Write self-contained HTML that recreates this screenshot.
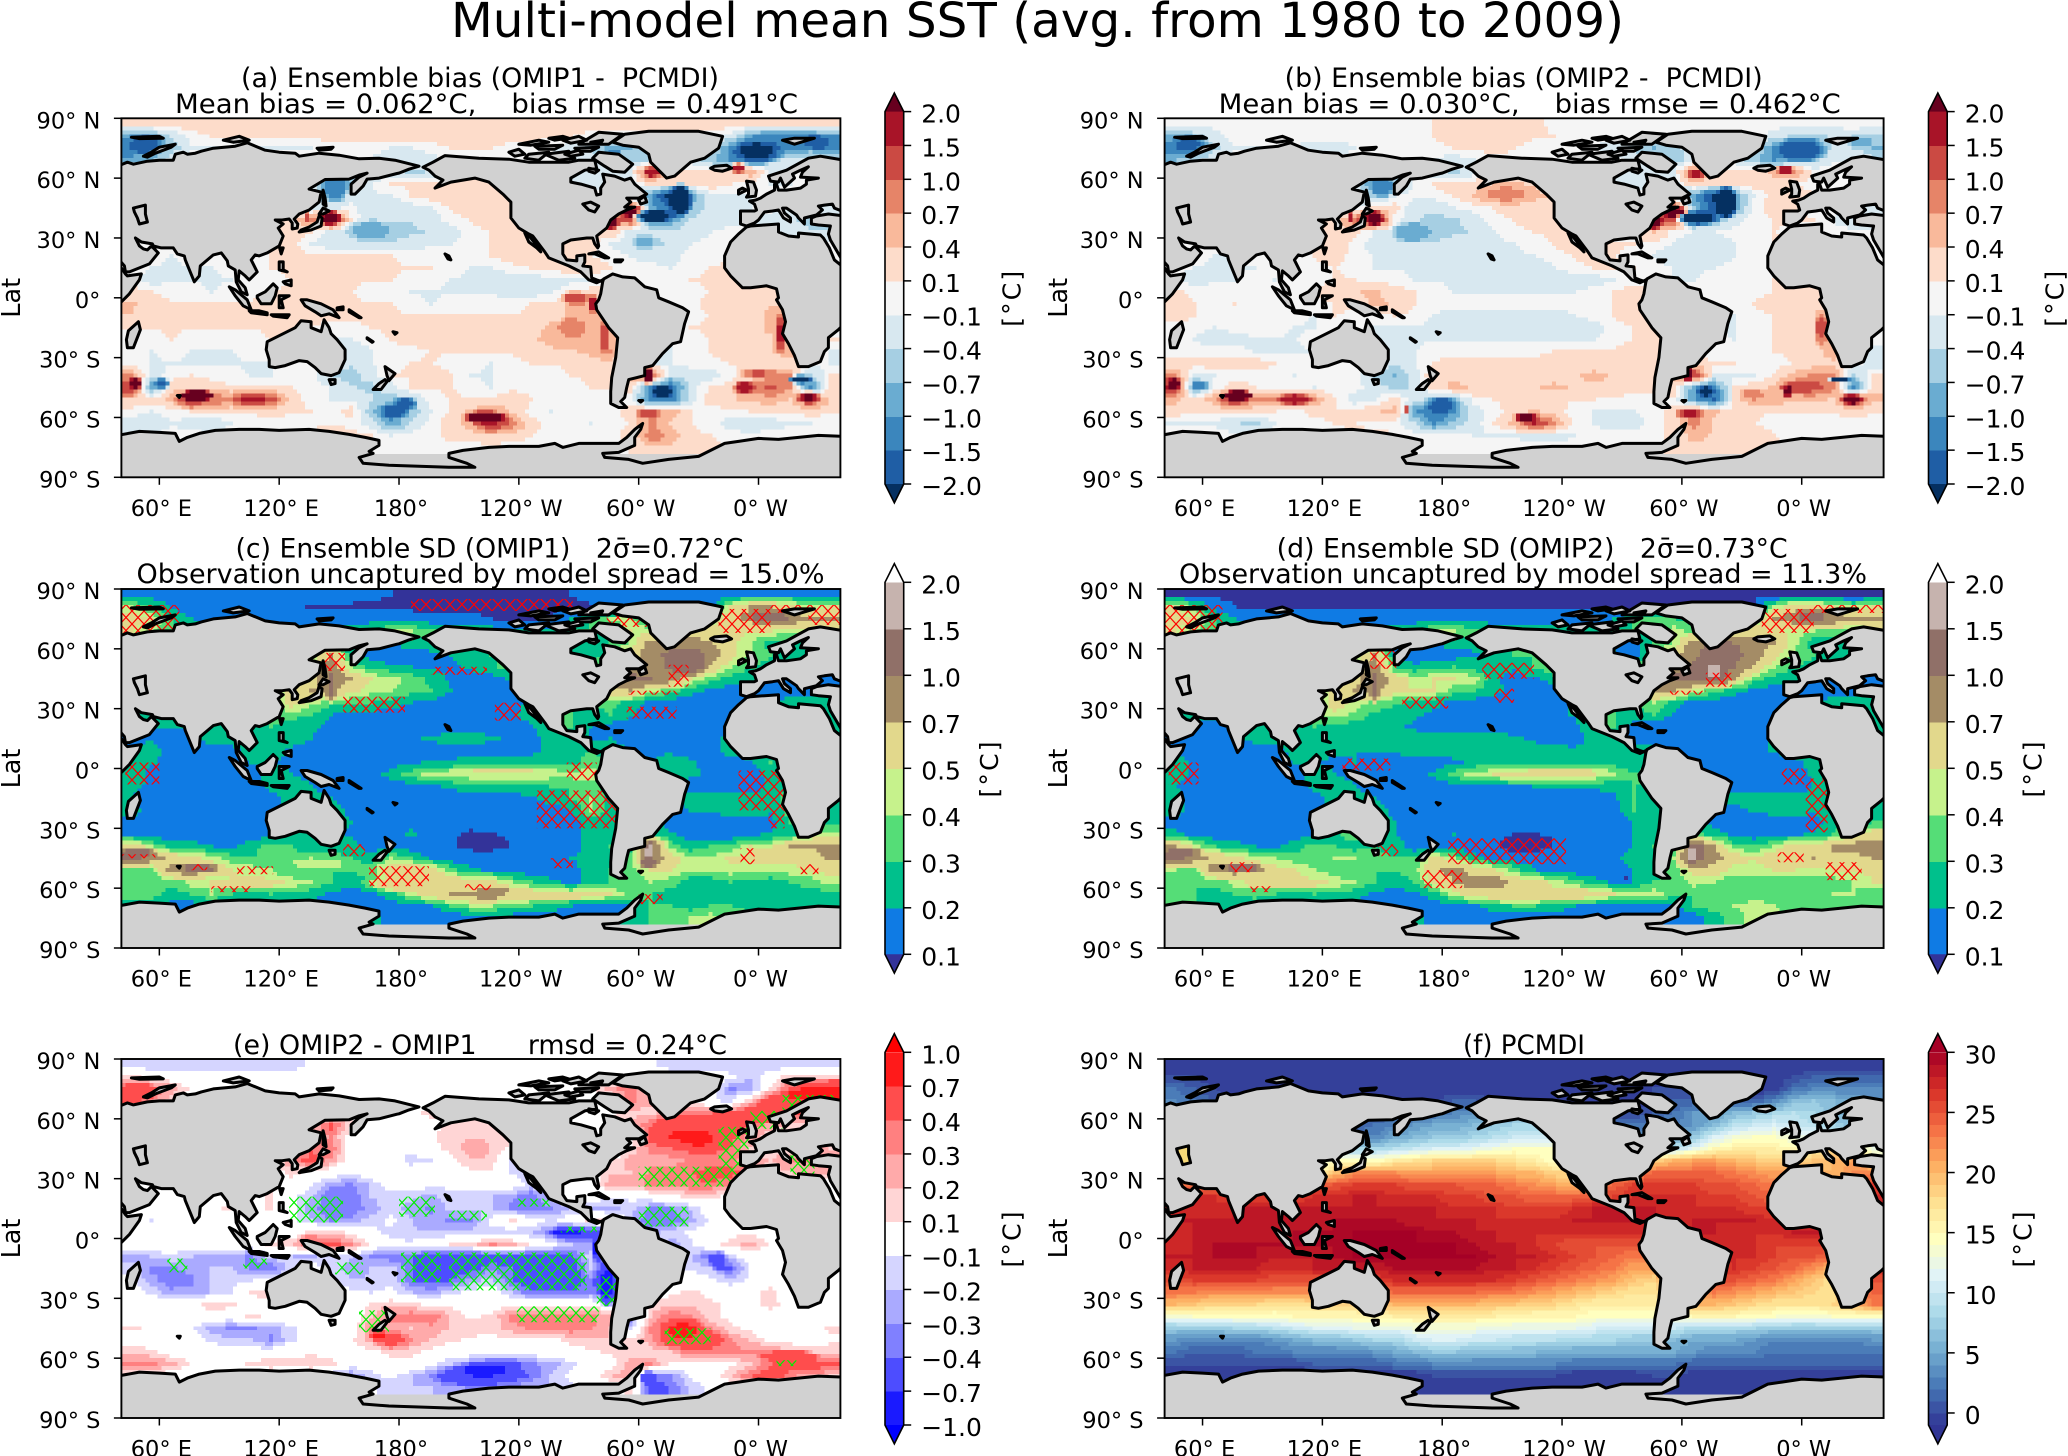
<!DOCTYPE html>
<html lang="en">
<head>
<meta charset="utf-8">
<title>Multi-model mean SST</title>
<style>
html,body{margin:0;padding:0;background:#fff;}
svg{display:block;}
text{font-family:"DejaVu Sans","Liberation Sans",sans-serif;fill:#000;white-space:pre;}
</style>
</head>
<body>
<svg id="figure" xmlns="http://www.w3.org/2000/svg" width="2068" height="1456" viewBox="0 0 2068 1456">
<rect width="2068" height="1456" fill="#fff"/>
<defs id="defs"></defs>
<g id="panels"></g>
<g>
<text x="451" y="37" font-size="48" textLength="1173" lengthAdjust="spacingAndGlyphs">Multi-model mean SST (avg. from 1980 to 2009)</text>
<text x="241" y="87" font-size="26.5" textLength="478" lengthAdjust="spacingAndGlyphs">(a) Ensemble bias (OMIP1 -  PCMDI)</text>
<text x="175" y="113" font-size="26.5" textLength="623" lengthAdjust="spacingAndGlyphs">Mean bias = 0.062°C,    bias rmse = 0.491°C</text>
<text x="1284.7" y="87" font-size="26.5" textLength="478" lengthAdjust="spacingAndGlyphs">(b) Ensemble bias (OMIP2 -  PCMDI)</text>
<text x="1218.7" y="113" font-size="26.5" textLength="622" lengthAdjust="spacingAndGlyphs">Mean bias = 0.030°C,    bias rmse = 0.462°C</text>
<text x="235.5" y="557.7" font-size="26.5" textLength="508" lengthAdjust="spacingAndGlyphs">(c) Ensemble SD (OMIP1)   2σ̄=0.72°C</text>
<text x="136.5" y="583" font-size="26.5" textLength="688" lengthAdjust="spacingAndGlyphs">Observation uncaptured by model spread = 15.0%</text>
<text x="1276.7" y="557.7" font-size="26.5" textLength="511" lengthAdjust="spacingAndGlyphs">(d) Ensemble SD (OMIP2)   2σ̄=0.73°C</text>
<text x="1179" y="583" font-size="26.5" textLength="688" lengthAdjust="spacingAndGlyphs">Observation uncaptured by model spread = 11.3%</text>
<text x="233" y="1054" font-size="26.5" textLength="494" lengthAdjust="spacingAndGlyphs">(e) OMIP2 - OMIP1      rmsd = 0.24°C</text>
<text x="1463" y="1054" font-size="26.5" textLength="122" lengthAdjust="spacingAndGlyphs">(f) PCMDI</text>
</g>
</svg>
<script>
// Grid: columns at lon 46,56,...,396 ; rows at lat 87,81,...,-75
const gridLons=[46,56,66,76,86,96,106,116,126,136,146,156,166,176,186,196,206,216,226,236,246,256,266,276,286,296,306,316,326,336,346,356,366,376,386,396];
const gridLats=[87,81,75,69,63,57,51,45,39,33,27,21,15,9,3,-3,-9,-15,-21,-27,-33,-39,-45,-51,-57,-63,-69,-75];

// (a) bias OMIP1, tenths of a degree
const biasOmip1=[
[2,2,2,2,2,2,2,2,2,2,2,2,2,2,2,2,2,2,2,2,2,2,2,2,2,2,2,2,2,2,2,2,2,2,2,2],
[-8,-7,-3,0,1,1,1,1,1,1,2,2,2,2,2,2,2,2,2,2,2,1,1,0,0,0,0,0,0,0,-2,-8,-11,-10,-10,-9],
[-10,-9,-5,-1,-1,-1,-1,-1,-1,-1,0,0,0,-1,-1,0,1,1,1,0,0,-1,-2,-4,-7,-6,-3,-2,-2,-3,-8,-12,-11,-9,-8,-11],
[-8,-6,-2,0,0,0,0,0,0,0,0,0,-1,-2,-2,-2,0,0,0,0,0,0,-1,-2,-4,-5,-3,0,-1,-5,-9,-6,-4,-2,-1,-3],
[0,0,0,0,0,0,0,0,0,0,-4,-3,-3,-2,-4,-3,0,0,0,0,0,0,-2,-3,-2,-1,10,1,1,1,3,5,-1,-1,0,0],
[0,0,0,0,0,0,0,0,0,0,-9,-7,-1,1,1,2,2,2,2,1,0,0,-2,-2,-1,-2,2,1,1,2,1,0,-1,-1,0,0],
[0,0,0,0,0,0,0,0,0,-3,-6,-2,-1,-1,1,2,3,3,2,1,0,0,0,0,0,-3,-8,-20,-8,-1,-1,-1,0,0,0,0],
[0,0,0,0,0,0,0,0,-2,-2,-2,0,-3,-3,-2,-1,1,2,2,2,1,0,0,0,2,12,-6,-14,-6,-2,-2,-1,0,-1,-3,-1],
[0,0,0,0,0,0,0,0,2,6,14,1,-2,-3,-3,-2,0,1,2,2,3,0,0,0,6,10,-8,-8,-3,-2,-2,-1,-2,-3,-4,-4],
[0,0,0,0,0,0,0,0,3,1,-2,-3,-5,-5,-4,-3,-2,0,1,2,2,0,0,0,3,-2,-2,-2,-2,-1,0,0,-1,-2,-3,-3],
[0,0,0,0,0,0,0,1,2,-1,-2,-2,-3,-3,-2,-1,-1,0,1,2,2,1,2,2,-1,-2,-4,-3,-1,0,1,1,0,0,0,0],
[0,0,-1,0,0,0,0,1,2,1,1,1,1,1,0,0,0,0,1,2,3,3,2,1,0,-1,-2,-2,0,0,1,2,1,0,0,0],
[0,-1,-1,-1,-1,0,0,1,1,1,1,2,2,1,1,1,0,-1,-1,0,1,2,2,2,1,0,0,-1,0,1,1,1,1,0,0,0],
[0,-2,-1,-1,-1,-1,0,0,1,1,1,1,1,1,0,0,-1,-1,-2,-2,-2,-2,-1,-1,0,0,0,0,1,1,1,1,1,1,0,0],
[2,1,0,0,-1,0,0,1,1,1,1,1,0,0,-1,-1,-1,-1,-1,-2,-2,-1,0,2,2,0,1,0,0,1,1,2,2,1,0,0],
[4,2,1,1,1,1,1,2,2,2,2,1,1,1,0,-1,0,0,0,0,1,1,4,6,4,0,0,0,0,2,3,2,3,3,0,0],
[3,2,1,1,1,1,1,1,3,1,2,2,1,1,1,1,1,1,1,1,1,2,4,5,3,1,0,0,0,1,2,2,4,4,0,0],
[1,1,1,1,1,1,1,1,1,1,0,0,1,1,1,1,1,2,2,2,2,4,5,5,3,0,0,0,1,1,2,2,4,6,0,0],
[0,0,1,0,0,0,0,1,1,1,-1,-1,0,1,2,2,2,2,2,2,3,4,5,5,5,0,1,-1,0,1,2,2,3,7,4,1],
[0,-1,0,-1,-1,-1,0,0,0,0,-2,-2,-1,0,0,1,1,1,1,1,2,3,3,4,6,0,-1,-1,0,1,2,2,3,5,2,-1],
[0,-1,-1,-1,-1,-1,-1,-1,0,0,-1,-3,-1,0,1,1,0,0,-1,0,1,1,1,2,3,0,-1,-1,0,0,1,1,2,2,0,-1],
[6,-2,0,1,0,0,-1,-1,0,0,-3,-5,-2,1,1,2,1,-1,-1,0,0,0,1,1,2,4,10,-3,-2,-2,0,2,6,6,-4,1],
[12,-8,2,3,2,1,1,1,1,0,-1,-3,-4,-2,1,1,1,0,-1,0,0,0,0,1,1,2,-10,-12,-2,1,2,6,9,6,-10,2],
[3,2,4,16,8,8,10,10,2,0,-1,-1,-3,-5,-3,0,1,1,1,3,1,0,0,0,0,0,-10,-10,-2,2,3,4,5,3,10,3],
[0,-1,0,1,2,1,1,2,1,1,0,2,-5,-11,-5,-1,1,4,6,3,0,-1,0,0,0,2,6,5,1,0,0,1,1,1,2,1],
[-2,-2,-1,-2,-3,-1,0,0,0,0,0,0,-2,-8,-3,0,2,5,14,8,2,0,0,-1,0,1,7,3,1,0,-2,-3,-2,-1,-1,0],
[-1,-1,0,0,0,1,0,0,0,2,4,2,1,-1,0,0,2,2,3,2,1,0,0,0,0,2,6,5,1,1,0,0,0,0,0,0],
[0,0,0,0,0,0,0,0,0,0,1,0,0,0,0,0,0,0,0,0,0,0,0,0,0,1,3,3,1,1,1,0,0,0,0,0]
];

// (b) bias OMIP2, tenths of a degree
const biasOmip2=[
[0,0,0,0,0,0,0,0,0,0,0,0,0,1,2,2,2,2,2,0,0,0,0,0,0,0,0,0,0,0,0,0,0,0,0,0],
[-6,-5,-2,0,0,0,0,0,0,0,0,0,0,1,2,2,2,2,1,1,0,0,0,0,0,0,0,0,0,0,-2,-4,-4,-3,-2,-4],
[-10,-8,-4,-1,-1,-1,-1,-2,-2,-1,0,0,0,0,1,1,2,1,0,0,0,-1,-2,-4,-6,-4,-2,-2,-2,-3,-9,-12,-6,-3,-2,-6],
[-6,-4,-2,0,0,0,0,0,0,0,0,0,0,-1,-2,-1,0,0,0,0,0,0,0,-2,-4,-5,-2,0,-2,-5,-9,-5,-3,-1,-1,-2],
[0,0,0,0,0,0,0,0,0,0,-3,-2,-2,-2,-4,-2,0,0,0,0,0,0,-2,-3,-1,-1,9,2,2,2,4,6,0,0,0,0],
[0,0,0,0,0,0,0,0,0,0,-10,-6,0,1,2,2,3,3,3,1,0,0,-2,-2,-1,-2,3,2,1,2,2,1,0,0,0,0],
[0,0,0,0,0,0,0,0,0,-3,-5,-1,0,0,1,3,4,4,4,3,0,0,0,0,0,-4,-8,-18,-8,-1,2,2,1,0,0,0],
[0,0,0,0,0,0,0,0,-2,-1,2,2,-3,-3,-1,0,1,2,2,2,1,0,0,0,3,12,-5,-16,-8,0,2,2,0,0,-2,-1],
[0,0,0,0,0,0,0,0,2,8,15,0,-3,-4,-4,-2,0,1,2,2,2,0,0,0,8,12,-8,-6,-2,0,1,1,1,-1,-3,-2],
[0,0,0,0,0,0,0,0,3,2,-1,-2,-5,-5,-4,-3,-1,0,1,1,1,0,0,0,4,0,-1,-1,0,0,1,0,0,0,0,-1],
[0,0,0,0,0,0,0,1,3,0,-2,-3,-3,-3,-2,-1,-1,-1,0,1,2,1,1,1,0,-1,-2,-2,-1,0,1,1,0,0,0,0],
[0,0,-1,-1,0,0,0,1,2,0,-1,-1,-1,-2,-2,-2,-1,-1,-1,0,1,2,1,0,-1,-2,-2,-2,-1,0,1,1,0,0,0,0],
[0,-1,-1,-1,-1,0,0,0,1,0,-1,-1,-1,-2,-2,-2,-2,-2,-2,-1,0,1,1,1,0,-1,-1,-1,0,0,0,0,0,0,0,0],
[-1,-2,-1,-1,0,-1,0,0,1,1,0,0,-1,-1,-1,-1,-1,-1,-2,-2,-2,-2,-1,0,0,-1,-1,0,0,0,1,1,1,1,0,0],
[2,0,0,0,0,0,0,1,2,3,4,2,1,0,-1,-1,-1,-1,-1,-1,-1,0,1,2,3,0,0,0,0,0,1,2,2,1,0,0],
[3,1,0,1,0,0,0,0,1,2,4,3,1,0,0,0,0,0,0,0,0,0,1,3,3,0,0,0,0,1,2,2,2,2,0,0],
[2,1,0,0,0,0,0,-1,1,0,0,1,0,-1,-2,-2,-2,-2,-2,-2,-1,0,1,2,2,0,0,-1,-1,0,1,2,3,3,0,0],
[0,0,-1,0,0,0,-1,-1,0,0,-1,-1,-1,-1,-2,-2,-2,-2,-2,-2,-2,-2,0,1,2,0,0,-1,-1,0,1,1,3,5,0,0],
[0,-1,-2,-2,-1,-1,-1,0,0,0,-2,-2,-1,-1,-1,-1,-1,-1,-1,-1,-1,-1,0,1,3,0,1,0,-1,0,1,2,3,6,3,0],
[0,0,0,0,-1,-1,-1,-1,0,0,-2,-3,-1,0,0,0,0,0,0,1,1,1,1,2,3,0,0,0,0,0,1,1,2,5,2,-2],
[2,2,2,2,2,1,0,0,0,0,-1,-3,-1,1,2,2,2,2,2,2,2,2,2,2,3,0,2,1,1,0,0,1,2,3,0,-2],
[6,-2,-1,0,0,0,-1,0,0,0,-4,-6,-2,3,3,2,2,2,2,2,3,4,3,2,2,4,12,-1,-1,-1,1,4,7,6,-4,1],
[14,-9,0,2,1,0,0,-1,0,0,-2,-4,-3,2,4,3,3,2,3,4,3,3,3,2,2,3,-8,-10,1,2,4,9,10,7,-10,2],
[4,2,5,14,6,7,10,6,1,-2,-1,2,-2,-5,-5,0,1,1,1,1,1,1,0,0,0,0,-8,-13,2,6,5,4,4,3,12,4],
[2,1,1,1,2,1,0,2,1,1,3,4,-8,-12,-8,-2,0,2,4,2,0,-1,-1,-1,0,2,7,4,1,1,1,1,1,1,2,1],
[-1,-1,-1,-3,-4,-1,0,0,1,1,0,0,-3,-9,-5,-2,1,4,13,7,0,-1,-2,-2,0,2,7,3,1,1,0,0,0,0,0,0],
[0,0,0,0,0,0,0,0,0,1,2,1,0,0,0,-1,-1,-1,-2,-2,-1,0,0,0,0,2,4,3,2,2,1,0,0,0,0,0],
[0,0,0,0,0,0,0,0,0,0,0,0,0,0,0,0,0,0,0,0,0,0,0,0,0,2,3,3,2,2,2,0,0,0,0,0]
];

// (c) ensemble SD OMIP1, hundredths of a degree
const sdOmip1=[
[15,15,15,15,15,15,15,15,15,15,15,14,12,10,9,8,8,8,8,8,9,9,10,12,14,15,15,15,15,15,15,15,15,15,15,15],
[40,30,18,15,15,15,15,15,12,9,8,8,8,8,8,8,8,8,8,8,8,8,9,9,9,12,15,15,15,15,50,70,70,60,40,50],
[60,50,30,20,15,15,15,15,15,15,14,14,15,15,14,12,12,12,10,9,9,9,20,30,40,40,30,30,30,40,60,70,90,90,70,70],
[50,40,30,25,25,25,25,25,25,25,25,25,30,40,40,35,30,25,25,25,25,25,30,30,30,50,40,40,50,60,60,50,50,40,40,50],
[30,30,30,30,30,30,30,30,30,30,30,20,18,20,25,25,30,30,30,30,30,30,25,25,30,40,80,85,85,70,55,40,25,25,25,25],
[30,30,30,30,30,30,30,30,30,40,70,25,15,13,15,18,20,25,30,30,30,30,25,25,30,60,85,110,110,85,55,40,30,20,20,20],
[30,30,30,30,30,30,30,30,30,40,85,40,25,22,20,18,18,22,28,35,30,30,30,30,50,85,90,105,100,65,40,32,25,20,20,20],
[30,30,30,30,30,30,30,30,40,60,100,70,50,45,35,28,18,15,15,22,30,30,30,30,60,110,100,85,50,35,25,20,20,15,15,15],
[30,30,30,30,30,30,30,30,60,70,70,55,45,40,35,30,20,12,12,15,30,30,30,30,65,70,45,35,25,18,15,15,15,15,15,18],
[30,30,30,30,30,30,30,30,60,45,35,32,30,25,20,18,12,12,12,15,22,30,30,30,35,25,18,15,12,12,12,14,18,25,25,25],
[25,25,25,25,25,25,25,35,35,30,20,18,16,15,14,14,14,14,14,18,25,30,30,25,30,22,14,13,13,13,13,15,25,25,25,25],
[18,20,20,22,25,25,25,30,25,22,18,15,13,13,13,13,14,14,14,14,18,30,30,20,15,14,13,13,13,14,18,25,25,25,25,25],
[18,18,16,18,25,25,25,25,25,20,15,15,15,18,18,22,25,25,22,18,16,25,25,18,20,15,14,14,14,15,25,25,25,25,25,25],
[20,25,15,14,14,16,25,25,18,15,14,14,14,14,14,14,14,14,15,15,16,25,25,30,25,20,18,18,15,16,25,25,25,25,25,25],
[25,22,15,12,12,14,20,20,18,14,13,13,13,14,18,22,22,25,25,25,25,25,25,35,25,25,20,25,22,15,16,18,30,25,25,25],
[28,16,13,12,12,13,15,25,20,18,14,13,13,25,35,45,45,48,48,48,48,45,45,45,40,30,25,25,22,18,13,13,25,30,25,25],
[22,18,13,12,12,12,12,25,25,20,16,13,12,13,15,18,22,25,25,25,28,30,30,35,25,25,25,25,16,13,13,15,22,30,25,25],
[20,15,13,12,12,12,12,15,25,25,20,16,14,13,13,13,14,14,15,16,18,25,30,40,25,25,25,25,22,25,25,25,22,40,25,25],
[25,14,13,13,13,13,14,14,25,25,25,18,16,13,13,13,12,12,12,12,13,14,20,40,25,25,25,15,20,22,25,25,22,35,25,25],
[15,13,12,12,12,12,14,16,25,25,25,20,14,14,18,13,12,12,12,12,12,12,13,25,25,25,25,15,13,12,13,14,15,30,25,25],
[15,15,13,12,12,13,14,15,20,25,25,18,14,15,22,13,11,9,10,11,11,12,14,25,25,25,30,22,15,14,14,18,22,25,40,45],
[65,40,25,25,20,18,25,35,30,20,25,25,15,15,14,13,11,9,9,10,11,13,15,25,30,25,110,35,25,30,30,50,45,70,70,75],
[110,85,65,55,45,35,30,35,35,40,35,30,25,40,30,18,14,13,13,12,12,14,20,25,25,35,90,60,40,40,55,50,65,55,60,75],
[35,30,80,90,65,50,45,40,30,30,30,30,35,60,65,60,35,22,18,14,13,14,16,25,30,35,50,50,40,40,45,45,40,45,50,55],
[30,30,35,40,40,50,60,50,45,40,30,25,30,50,70,80,60,50,55,40,30,22,18,22,30,30,40,35,25,25,30,25,25,30,35,45],
[35,35,25,30,40,30,25,30,28,25,18,15,18,25,45,60,70,75,80,65,60,55,50,60,50,35,30,25,25,20,20,20,22,25,25,25],
[25,25,15,15,15,15,14,15,14,15,14,14,14,13,15,18,30,40,40,35,30,25,20,15,14,20,30,30,25,30,30,25,25,25,25,25],
[25,25,25,25,25,25,25,25,25,25,25,25,25,14,14,14,13,13,13,13,13,13,13,13,14,25,30,35,40,45,40,35,25,25,25,25]
];

// (d) ensemble SD OMIP2, hundredths of a degree
const sdOmip2=[
[8,8,8,8,8,8,8,8,8,8,8,8,8,8,8,8,8,8,8,8,8,8,8,8,8,8,8,8,8,8,8,8,8,8,8,8],
[50,35,15,10,9,8,8,8,8,8,8,8,8,8,8,8,8,8,8,8,8,8,8,8,8,9,9,9,9,9,40,60,60,50,40,50],
[60,50,30,20,15,15,14,14,14,14,14,14,14,14,14,14,14,14,14,14,14,14,20,30,30,30,25,25,30,40,70,80,85,90,70,70],
[50,40,30,25,25,25,25,25,25,25,25,25,30,40,40,35,30,25,25,25,25,25,30,30,30,45,35,35,50,55,55,45,40,35,35,45],
[30,30,30,30,30,30,30,30,30,30,30,18,16,20,25,25,28,30,30,30,30,30,20,15,30,40,85,90,85,80,70,45,22,20,20,20],
[30,30,30,30,30,30,30,30,30,40,70,18,14,13,15,18,25,30,30,30,30,30,20,15,30,60,90,110,100,85,55,40,30,20,20,20],
[30,30,30,30,30,30,30,30,30,40,85,30,22,25,30,25,22,22,30,40,30,30,30,30,50,85,110,140,100,65,40,32,25,20,20,20],
[30,30,30,30,30,30,30,30,40,60,100,60,45,50,50,45,22,15,18,25,30,30,30,30,60,110,120,130,70,35,25,20,20,15,15,15],
[30,30,30,30,30,30,30,30,60,70,75,55,50,50,35,30,25,14,12,15,30,30,30,30,80,75,45,35,25,18,15,15,15,15,15,18],
[30,30,30,30,30,30,30,30,60,45,38,32,28,22,18,15,13,12,12,13,22,30,30,30,40,25,16,14,12,12,12,13,18,25,25,25],
[25,25,25,25,25,25,25,35,45,38,28,25,22,18,16,15,14,13,13,16,22,30,30,25,30,18,14,13,13,13,13,14,25,25,25,25],
[14,14,14,14,25,25,25,30,25,25,25,22,18,15,15,15,14,14,14,14,16,30,30,15,14,14,13,13,13,13,16,25,25,25,25,25],
[18,14,12,13,25,25,25,25,20,25,25,25,25,25,25,25,25,22,18,15,14,25,25,18,15,14,13,13,13,14,22,25,25,25,25,25],
[20,16,13,12,12,14,25,25,22,20,20,22,25,25,25,25,25,25,25,25,22,25,25,25,22,18,15,14,14,14,22,25,25,25,25,25],
[25,18,13,12,12,13,20,20,18,20,15,14,14,14,18,22,25,25,25,25,25,22,25,25,25,25,18,18,16,14,14,16,25,25,25,25],
[28,16,13,12,12,13,15,25,20,18,14,13,13,22,35,45,50,55,55,55,55,50,42,30,40,30,22,15,13,13,13,14,22,30,25,25],
[20,14,13,12,12,12,12,25,25,20,15,13,12,13,15,16,18,18,20,20,22,22,22,30,25,25,25,25,16,13,13,14,20,30,25,25],
[25,14,13,12,12,12,13,15,25,25,20,15,13,13,13,13,13,13,13,14,15,15,18,30,25,25,25,25,24,25,25,25,22,30,25,25],
[25,14,13,13,13,14,15,15,25,25,25,18,14,13,13,12,12,12,12,12,13,13,15,30,25,25,25,13,16,22,25,25,22,30,25,25],
[16,13,12,12,12,12,13,16,25,25,25,20,14,14,18,13,12,11,11,12,12,12,13,20,25,25,30,16,13,12,12,13,15,25,25,30],
[22,18,14,12,12,13,14,18,28,35,25,20,15,15,20,13,12,10,10,10,11,12,14,20,25,25,35,25,18,15,15,18,22,30,45,60],
[75,45,30,25,20,18,25,35,30,25,30,25,15,15,14,13,11,9,9,10,12,14,15,20,30,30,120,70,35,30,40,60,50,75,80,90],
[110,85,65,55,45,40,35,35,40,40,35,30,30,60,40,25,16,14,14,13,13,14,18,25,25,40,130,80,60,50,65,60,70,60,60,70],
[40,35,80,85,70,55,50,40,35,32,30,30,35,65,80,60,50,35,20,15,13,12,14,20,28,35,55,60,45,45,50,50,45,50,50,55],
[30,30,35,40,50,60,60,50,45,40,30,25,30,50,70,85,80,60,60,45,35,25,18,20,30,30,45,40,30,30,30,30,35,35,40,50],
[30,30,25,30,35,30,25,30,28,25,18,15,18,25,45,60,65,70,65,60,60,55,50,45,45,35,30,30,30,35,35,30,35,40,40,35],
[30,30,25,25,20,15,14,14,14,14,14,14,14,14,15,18,25,30,30,25,20,18,15,15,15,15,30,35,40,45,40,35,35,35,35,35],
[25,25,25,25,25,25,25,25,25,25,25,25,25,14,14,13,13,14,14,14,14,14,14,14,14,14,15,25,35,45,45,40,35,35,35,35]
];

// (e) OMIP2 minus OMIP1, hundredths of a degree
const diffOmip=[
[-15,-15,-15,-15,-15,-15,-15,-15,-15,-5,0,0,0,0,0,0,0,0,0,0,0,0,0,0,0,0,-5,-12,-15,-15,-15,-15,-15,-15,-15,-15],
[10,5,0,0,0,0,0,0,0,0,0,0,0,0,0,0,0,0,0,0,0,0,0,0,0,0,0,0,0,0,-5,-15,0,15,15,15],
[40,35,20,5,0,0,0,0,0,0,0,0,0,0,0,0,0,0,0,0,0,0,0,5,20,30,5,0,0,0,-25,-20,10,35,50,65],
[35,25,10,5,0,0,0,0,0,0,0,0,0,0,5,5,0,0,0,0,0,0,0,0,5,25,20,10,0,-5,-10,15,45,35,35,50],
[0,0,0,0,0,0,0,0,0,0,10,5,5,5,5,10,5,0,0,0,0,0,0,-5,5,15,10,30,30,30,35,45,50,35,25,25],
[0,0,0,0,0,0,0,0,0,10,35,10,0,0,0,5,10,15,10,5,0,0,-5,-5,10,15,30,50,50,45,40,30,20,15,10,10],
[0,0,0,0,0,0,0,0,0,15,25,0,0,-5,-5,5,15,15,15,10,0,0,0,0,-10,0,35,55,60,50,35,20,10,5,5,5],
[0,0,0,0,0,0,0,0,10,30,30,0,5,0,-5,5,10,20,15,5,0,0,0,0,-10,10,25,30,35,35,30,15,10,10,20,15],
[0,0,0,0,0,0,0,0,25,35,20,0,0,0,-12,-8,5,15,15,-10,0,0,0,0,5,20,20,20,25,25,25,20,15,25,25,20],
[0,0,0,0,0,0,0,0,10,5,0,-5,0,5,0,-3,5,5,5,-8,-15,0,0,0,15,15,25,25,30,35,35,25,10,15,20,20],
[0,0,0,0,0,0,0,10,5,-5,-20,-25,-15,0,0,-5,-5,0,0,0,-10,-8,0,0,20,20,25,25,30,30,25,5,0,0,0,0],
[5,0,0,0,0,0,0,10,-5,-15,-30,-30,-15,-12,-12,-18,-10,-12,-15,-20,-30,-12,5,0,-5,-5,0,5,10,10,5,0,0,0,0,0],
[0,0,-5,0,5,10,0,10,-3,-20,-30,-30,-20,-10,-20,-25,-12,-15,-15,-25,-30,-25,-15,-15,-20,-12,-25,-25,-15,0,0,0,0,0,0,0],
[0,-8,-5,0,5,0,0,0,-5,-15,-25,-20,-12,-5,-15,-20,-25,-25,-5,10,0,-10,0,10,15,-15,-30,-30,-20,-5,0,0,0,0,0,0],
[5,0,0,0,0,0,0,0,0,10,15,5,-5,-10,-15,-15,-15,-12,-12,-15,-15,-25,-50,-50,-30,-12,-20,-12,-5,0,5,5,0,0,0,0],
[5,3,0,0,0,0,0,10,15,30,35,25,5,-5,-5,5,8,10,25,20,5,-5,-15,-20,0,0,0,-20,-10,5,10,20,5,0,0,0],
[-20,-15,-10,-15,-20,-20,-25,-10,-15,-20,-8,-15,-25,-30,-30,-40,-45,-45,-40,-40,-40,-35,-35,-10,-40,0,0,0,-15,-30,-12,0,0,0,0,0],
[-10,-25,-25,-20,-15,-15,-25,-30,-10,0,-10,-20,-15,-10,-30,-35,-40,-35,-25,-30,-35,-40,-40,-15,-50,0,0,0,-10,-15,-35,-5,0,0,0,0],
[-5,-20,-30,-25,-15,-10,-8,-5,0,0,-5,-15,-15,-10,-30,-35,-30,-20,-12,-30,-40,-45,-40,-25,-60,0,0,0,0,-5,-12,-5,5,0,0,0],
[0,-10,-20,-20,-15,-10,10,15,0,0,0,-5,-8,-5,-15,-20,-10,-5,0,-15,-30,-30,-30,-25,-50,-40,0,5,10,5,0,5,10,0,0,0],
[5,3,0,0,15,10,0,0,0,0,0,-5,10,15,10,5,5,5,0,5,5,5,5,5,-5,-30,10,15,15,10,5,5,10,5,0,0],
[0,0,0,0,0,0,10,5,0,5,0,0,15,25,30,30,15,5,10,25,30,30,30,25,20,-30,15,30,25,10,5,5,5,5,0,0],
[10,5,0,-5,-20,-25,-25,-20,-10,0,5,0,25,20,15,20,15,15,10,20,25,25,30,25,15,-10,25,35,40,25,10,5,-5,-5,0,10],
[0,0,0,0,-10,-15,-15,-25,-10,0,0,5,20,50,25,15,10,5,5,5,5,5,10,15,15,10,20,45,50,45,25,15,5,5,0,5],
[15,10,0,5,0,0,-3,0,5,5,5,0,5,10,10,5,0,0,-5,-5,0,0,5,5,10,10,10,15,30,25,25,25,25,15,15,15],
[25,25,20,5,-5,0,10,15,10,15,10,0,-5,5,5,-5,-15,-25,-35,-35,-25,-20,-10,0,0,20,25,5,0,5,5,15,30,40,40,35],
[10,5,0,0,-5,0,-5,-5,-5,-5,-15,-25,-10,-5,-15,-25,-50,-50,-50,-40,-30,-15,-5,0,15,20,-30,-25,-5,0,15,30,40,25,20,15],
[0,0,0,0,0,0,0,0,0,0,0,0,-5,-15,-15,-15,-20,-25,-25,-20,-15,-15,-10,-5,-5,15,-40,-30,-15,-5,0,0,0,0,0,0]
];

// (f) PCMDI SST, degrees C
const sstPcmdi=[
[-1,-1,-1,-1,-1,-1,-1,-1,-1,-1,-1,-1,-1,-1,-1,-1,-1,-1,-1,-1,-1,-1,-1,-1,-1,-1,-1,-1,-1,-1,-1,-1,-1,-1,-1,-1],
[0,0,-1,-1,-1,-1,-1,-1,-1,-1,-1,-1,-1,-1,-1,-1,-1,-1,-1,-1,-1,-1,-1,-1,-1,-1,-1,-1,-1,-1,-1,0,1,1,1,1],
[2,1,0,-1,-1,-1,-1,-1,-1,-1,-1,-1,-1,-1,-1,-1,-1,-1,-1,-1,-1,-1,-1,-1,0,0,0,-1,-1,-1,-1,2,3,3,3,3],
[3,2,1,0,-1,-1,-1,-1,-1,-1,-1,-1,-1,0,1,1,0,-1,-1,-1,-1,-1,-1,-1,0,1,1,1,1,1,3,6,7,6,5,4],
[2,2,2,2,2,2,2,2,2,2,1,1,1,2,3,4,5,5,5,5,3,3,0,0,1,2,4,4,6,7,8,9,8,6,5,4],
[2,2,2,2,2,2,2,2,2,1,2,3,4,5,5,6,7,8,8,8,4,3,2,2,3,3,4,6,9,10,11,10,9,8,6,4],
[6,6,6,6,6,6,6,6,6,3,3,5,6,7,7,8,9,10,10,11,9,8,6,4,4,5,7,11,13,14,14,13,12,10,9,8],
[13,13,13,13,13,13,13,13,8,8,8,9,10,11,11,12,13,14,14,14,13,12,10,8,8,9,12,15,16,16,16,15,16,18,17,12],
[12,12,12,12,12,12,12,12,14,14,14,16,17,18,18,18,18,17,16,14,13,13,13,14,18,20,21,21,20,19,18,18,19,20,21,18],
[15,15,15,15,15,15,15,15,19,22,22,22,21,21,21,21,21,20,20,18,18,18,20,22,24,24,24,24,23,22,21,21,20,20,22,22],
[24,23,23,23,23,23,23,24,25,26,26,26,25,25,25,24,24,23,22,21,20,21,24,26,26,26,26,25,25,24,23,22,20,20,24,26],
[26,27,27,26,26,26,26,27,27,28,28,27,27,27,26,26,25,25,24,24,24,25,26,27,27,27,27,26,26,25,24,23,23,25,26,27],
[27,27,27,28,28,28,28,28,28,28,28,28,28,28,27,27,27,26,26,26,27,28,28,28,28,27,27,27,27,26,26,26,26,26,27,28],
[28,28,28,28,28,28,28,28,29,29,29,29,28,28,28,28,27,27,27,27,28,28,28,28,28,27,28,28,28,28,27,27,27,27,27,28],
[27,28,28,28,28,28,29,29,29,30,30,30,30,29,29,28,28,27,27,27,27,27,27,27,27,28,28,28,27,27,27,28,28,28,28,28],
[27,28,29,29,29,29,29,29,29,30,30,30,30,30,30,29,28,28,27,26,25,25,25,25,25,27,27,27,27,27,26,26,26,26,27,27],
[28,28,29,29,29,28,28,28,29,30,30,30,30,30,30,30,29,28,28,27,26,25,24,23,23,27,27,28,27,27,26,25,25,24,27,28],
[27,28,28,28,28,27,27,28,28,28,28,29,29,29,29,29,28,28,27,26,25,24,23,21,21,25,26,26,27,26,25,24,22,20,25,27],
[25,26,26,26,26,25,25,25,25,26,26,27,27,27,27,27,27,26,25,24,23,22,21,19,18,24,24,25,25,24,23,21,19,17,24,25],
[23,23,22,22,22,22,22,22,22,23,23,24,24,24,24,24,23,23,22,21,20,19,18,17,17,22,22,23,22,21,20,19,18,17,22,24],
[20,19,18,18,18,17,17,18,18,18,19,20,20,20,20,20,19,19,18,18,17,16,16,16,16,18,20,20,19,18,17,17,17,18,20,23],
[13,14,14,14,14,14,15,15,15,15,15,16,16,16,16,16,16,15,15,15,15,14,14,14,14,13,15,15,15,14,14,13,13,14,14,14],
[7,7,7,8,8,9,10,11,11,12,12,12,13,13,13,13,12,12,12,12,12,11,10,10,10,10,8,8,8,8,7,7,7,7,7,7],
[4,3,3,3,3,4,5,6,6,7,8,8,10,11,11,10,10,9,9,9,8,8,8,7,7,6,5,5,5,4,3,3,3,3,3,4],
[2,1,1,1,2,2,3,3,3,3,4,5,6,7,7,6,6,6,6,5,5,5,5,5,5,5,4,3,3,3,2,2,2,2,2,2],
[0,0,0,0,0,0,0,1,1,1,1,2,2,3,3,3,3,3,3,3,2,2,2,2,2,2,1,1,1,1,1,1,1,1,1,1],
[-1,-1,-1,-1,-1,-1,-1,-1,-1,-1,-1,-1,-1,0,0,0,0,0,0,0,-1,-1,-1,-1,0,0,-1,-1,-1,-1,-1,-1,-1,-1,-1,-1],
[-1,-1,-1,-1,-1,-1,-1,-1,-1,-1,-1,-1,-1,-1,-1,-1,-1,-1,-1,-1,-1,-1,-1,-1,-1,-1,-1,-1,-1,-1,-1,-1,-1,-1,-1,-1]
];

// Local extremes finer than the grid: [lon, lat, lonRadius, latRadius, value] in each field's units
const featuresA=[[359,73,14,7,-18],[389,78,10,5,-14],[53,77,10,6,-16],[148,55,7,8,-11],[146,40,6,4,22],[134,41,2,3,12],[286,38,5,4,22],[296,43,8,3,20],[321,49,6,9,-28],[308,41,12,4,-20],[307,63,5,3,16],[350,65,4,3,14],[287,73,5,3,-9],[165,34,14,6,-7],[303,28,8,4,-6],[268,0,8,4,10],[277,-3,3,5,16],[283,-20,3,9,11],[266,-15,8,6,8],[371,-18,3,11,13],[48,-43,4,3,24],[61,-43,5,3,-14],[79,-49,9,3,30],[107,-51,10,3,14],[178,-57,8,4,-16],[183,-53,7,4,-14],[223,-60,12,3.5,24],[305,-39,2.5,5,24],[312,-47,6,3.5,-24],[305,-58,7,2.5,12],[308,-69,5,4,7],[353,-45,6,4,16],[381,-41,7,2.5,-20],[385,-50,6,3.5,18],[360,-38,12,2,9]];
const featuresB=[[360,74,14,7,-16],[389,78,8,4,-7],[53,77,10,5,-14],[150,56,6,7,-12],[146,40,5,4,24],[134,41,2,3,16],[286,38,5,4,22],[296,43,8,3,22],[322,48,6,9,-32],[308,40,12,4,-20],[307,62,5,3,14],[352,64,5,3,14],[165,33,12,6,-8],[46,-43,4,3,24],[59,-44,4,3,-12],[78,-49,8,3,28],[106,-51,9,3,16],[162,-56,2,2,12],[180,-54,9,5,-16],[222,-60,7,2.5,20],[303,-38,2,5,24],[312,-47,5,3,-22],[304,-58,8,2.5,14],[358,-45,10,3,12],[353,-47,3,3,22],[379,-41,6,2,-20],[385,-51,6,3,22],[335,-48,10,1.5,9],[370,-15,4,10,9],[212,52,18,6,6]];
const featuresC=[[50,-42,10,3,115],[80,-50,12,3,110],[228,-63,14,3,90],[190,-58,30,5,62],[250,-64,30,3,60],[325,54,12,8,115],[305,-42,2,7,170],[232,-1,30,1.5,50],[305,-47,6,4,105],[365,76,15,4,105],[222,-37,15,5,9],[146,42,4,10,100],[100,-58,35,2,55],[140,-48,25,2,45]];
const featuresD=[[50,-42,10,3,115],[80,-50,12,3,110],[200,-57,14,3,90],[230,-63,30,4,62],[305,-43,2.5,6,170],[316,50,4,6,170],[320,58,12,8,115],[240,-1,26,1.5,52],[221,-38,14,6,9],[272,-55,3,2,9],[146,42,4,10,100],[100,-58,35,2,55],[365,76,15,4,100]];
const featuresE=[[340,-11,5,5,-45],[284,-24,4,12,-60],[223,-66,18,4,-60],[305,-70,5,4,-45],[322,-46,12,7,55],[170,-49,5,3,60],[263,3,10,2.5,-60],[279,-5,2,8,-70],[136,-1,8,3,30],[376,-59,16,3,50],[330,50,14,6,55],[385,72,14,4,70],[50,74,12,4,45]];
const featuresF=[];

// Colour levels and colorbar tick labels
const biasLevels=[-2,-1.5,-1,-0.7,-0.4,-0.1,0.1,0.4,0.7,1,1.5,2];
const biasTickLabels=['−2.0','−1.5','−1.0','−0.7','−0.4','−0.1','0.1','0.4','0.7','1.0','1.5','2.0'];
const biasColors=['#1f5ea5','#3b86bd','#6aacd1','#a6cfe3','#d8e8f0','#f5f5f5','#fddcca','#f9b99b','#e68468','#cb4a43','#a81428'];
const sdLevels=[0.1,0.2,0.3,0.4,0.5,0.7,1,1.5,2];
const sdTickLabels=['0.1','0.2','0.3','0.4','0.5','0.7','1.0','1.5','2.0'];
const sdColors=['#0f7be4','#00c08c','#55dd77','#c6f28c','#e2d88c','#a48c66','#907068','#c6b3ae'];
const diffLevels=[-1,-0.7,-0.4,-0.3,-0.2,-0.1,0.1,0.2,0.3,0.4,0.7,1];
const diffTickLabels=['−1.0','−0.7','−0.4','−0.3','−0.2','−0.1','0.1','0.2','0.3','0.4','0.7','1.0'];
const diffColors=['#1a1aff','#4d4dff','#8080ff','#aaaaff','#d5d5ff','#ffffff','#ffd5d5','#ffaaaa','#ff8080','#ff4d4d','#ff1a1a'];
const sstLevels=[-1,0,1,2,3,4,5,6,7,8,9,10,11,12,13,14,15,16,17,18,19,20,21,22,23,24,25,26,27,28,29,30];
const sstTickLabels=['0','5','10','15','20','25','30'];
const sstTickValues=[0,5,10,15,20,25,30];
const sstNodes=['#313695','#4575b4','#74add1','#abd9e9','#e0f3f8','#ffffbf','#fee090','#fdae61','#f46d43','#d73027','#a50026'];

// Axis ticks
const lonTickValues=[60,120,180,240,300,360];
const lonTickLabels=['60° E','120° E','180°','120° W','60° W','0° W'];
const latTickValues=[90,60,30,0,-30,-60,-90];
const latTickLabels=['90° N','60° N','30° N','0°','30° S','60° S','90° S'];

// Significance hatch regions as [lonWest, latNorth, lonEast, latSouth]
const hatchC=[[186,85,267,79],[41,82,70,68],[340,80,366,68],[366,82,401,78],[385,78,401,72],[284,77,307,71],[142,58,153,49],[196,51,224,47],[152,36,183,28],[228,33,241,24],[315,52,325,41],[294,31,319,25],[295,39,320,37],[43,3,60,-8],[249,-11,289,-30],[264,3,279,-6],[350,-1,373,-21],[365,-21,373,-30],[152,-38,163,-44],[165,-49,195,-59],[213,-58,226,-61],[76,-48,84,-51],[99,-49,117,-53],[86,-59,107,-62],[256,-45,267,-50],[300,-63,312,-68],[381,-48,390,-53],[351,-40,358,-48],[41,-43,58,-45]];
const hatchD=[[41,82,70,68],[340,80,366,68],[366,82,401,78],[144,60,157,50],[200,53,226,45],[206,40,216,33],[160,36,183,30],[312,48,325,41],[294,39,312,37],[43,3,58,-8],[130,5,154,-1],[350,0,362,-8],[362,-5,373,-32],[183,-35,242,-48],[170,-51,190,-60],[74,-47,85,-52],[348,-42,361,-47],[372,-47,390,-56],[148,-38,158,-44],[84,-59,95,-62]];
const hatchE=[[300,36,350,26],[340,56,355,36],[356,64,372,55],[372,72,398,64],[125,21,152,8],[180,21,198,11],[205,14,224,9],[300,16,325,6],[181,-7,201,-22],[205,-7,274,-26],[279,-19,289,-34],[261,6,279,3],[64,-10,74,-17],[102,-10,114,-15],[148,-12,162,-18],[239,-34,280,-42],[160,-36,175,-47],[313,-45,336,-53],[239,20,257,16],[376,42,388,32],[369,-61,379,-64]];

// Coastlines: [lon, lat] rings
const landRings=[
[[39,66],[44,68],[47,67],[54,68.5],[60,69],[67,69],[68,72],[72,73],[74,72],[78,72.5],[81,73.5],[87,75],[98,76],[104,77.7],[113,74],[120,73],[128,72.5],[130,71],[140,72.5],[150,71.5],[160,69.7],[170,70],[178,69],[180,68.5],[190,66],[185,64.5],[180,62.5],[179,62.3],[170,60],[164,59.5],[162,56],[158,52],[156,52],[156,57],[160,60.5],[164,62.5],[160,61.5],[155,59.5],[143,59.3],[135,54.5],[141,53],[140,48],[135,44],[130,42],[127.5,39.5],[129.3,37],[129,35],[126.5,34.5],[126.5,37.5],[125,39.5],[121.5,39],[118,39],[122,37],[119.5,35],[122,31],[120,26],[114,22.5],[110,21],[108,21.5],[106,19],[109,13],[106,10],[105,9],[103,11],[100,13.5],[99.5,9],[103,5],[104,1.5],[101,3],[98.5,8],[98,14],[94.5,16],[94,18.5],[91,22.5],[87,21.5],[80.5,16],[80,11],[77.5,8],[73,19],[72.5,21],[69,22],[67,25],[61,25],[57,26],[56.5,27],[51,28],[48,30],[50,26],[52,24.5],[54,24],[56,26],[59.5,22.5],[55,17],[45,13],[43,13],[42.5,16],[39,20]],
[[39,15],[41,15],[43,12],[44,11],[51,12],[50,9],[45,2],[41,-2],[39,-3]],
[[49.5,-12],[50.5,-16],[47,-25],[44,-25],[43.5,-21],[44.5,-16.5]],
[[47,45],[53,46.5],[53,42],[54,38],[50,37],[49,40],[47.5,43]],
[[403,69],[391,71],[385,70],[374,64],[365,61],[366,58.5],[370,58],[371,60],[373,55.5],[378,60],[377,62],[381,64],[385,65.7],[382,63],[381,60.5],[390,60],[384,59],[384,57],[381,55],[374,54],[370,54],[369,57],[368,57],[368,54],[364,52],[361,50],[358.5,49],[355.5,48.5],[358,47],[359,44],[358,43.5],[351,43.5],[351,37],[354,36],[358,37.5],[360,39],[363,43],[367,43.5],[370,44],[372.5,40],[376,38],[376,40],[373,42.5],[372,45],[374,45],[379,41.5],[380,40],[383,37],[383,40],[387,41],[389,41.5],[392,44],[390,46],[393,46.5],[397,47],[398,45],[403,43]],
[[403,41],[395,42],[389,41],[386.5,40],[386.5,37],[390,36.5],[396,36],[395,32],[396,29],[403,17],[403,41]],
[[354,35.5],[350,32],[346,28],[343,21],[343,15],[346,11],[352,5],[356,5],[364,6],[369,4.5],[370,0],[369,-1],[372,-6],[373.5,-12],[372,-18],[375,-23],[378,-29],[380,-34.5],[385,-34.5],[391,-32],[393,-27],[395,-25],[395,-20],[400,-16],[403,-13],[403,15],[398,19],[395.5,25],[392.5,30],[391,31.5],[380,32.5],[380,30.5],[375,31],[370,33],[370,37],[363,36.5],[356,36]],
[[192,65.5],[197,68],[203,71.3],[220,70],[235,69.5],[245,68],[255,68],[265,68],[270,69],[278,69],[279,65],[273,64],[266,60],[266,58],[271,57],[278,55],[279,51.5],[281,52],[281,55],[283,58],[282,62],[288,61],[293,59],[296,60],[298,57],[304,52],[300,50],[294,50],[296,48],[293,45.5],[298,45.5],[294,44],[290,42],[286,39],[284,35],[279,31],[280,26],[279.5,25],[278,27],[277,30],[274,30],[270,29.5],[266,29],[262,27],[262,22],[264,19],[269,18.5],[269,21],[273,21.5],[273,18],[272,16],[276,15.5],[276.5,10],[279,9],[282,8],[283,9.5],[279,7.5],[275,9],[271,13],[265,16],[255,20],[253,23],[247,31],[245,32],[240,35],[236,40],[236,48],[232,52],[225,58],[218,60],[212,59],[206,58],[198,55],[202,59],[198,61],[195,64]],
[[243,32.5],[246,30],[250,25],[251,23],[249,25],[245,28]],
[[272,47],[276,48],[280,46],[278,43],[275,44]],
[[282.5,9.5],[287,12],[292,10.5],[298,10],[303,5.5],[309,4],[310,0],[315,-2],[322,-5],[325,-7],[323,-13],[321,-22],[317,-23],[312,-28],[307,-34],[303,-35],[303,-39],[295,-41],[294,-45],[293,-50],[291,-52],[294,-55],[290,-55],[286,-53],[286,-47],[286.5,-40],[288.5,-30],[289.5,-20],[285,-15],[279,-6],[278.5,-3],[280,-1],[281,2],[282,8]],
[[287,78],[293,82],[305,83.5],[330,83.5],[342,81],[340,75],[333,70],[326,68],[318,61],[314,60],[310,64],[306,68],[305,72],[300,75.5],[292,76.5]],
[[280,73],[290,72],[297,67],[293,63],[287,63.5],[283,66],[277,70]],
[[270,77],[280,83],[292,82],[285,77]],
[[245,72],[255,73],[250,69],[243,70]],
[[235,73],[240,74.5],[243,72],[238,71]],
[[248,76],[262,76.5],[258,74.5],[250,74.5]],
[[262,79],[270,81],[274,79],[266,77.5]],
[[268,75],[280,75.5],[276,73.5],[270,73.5]],
[[253,72],[265,73.5],[268,70],[260,69]],
[[240,77],[250,79],[255,78],[246,76.5]],
[[255,80],[262,81],[265,80],[258,79]],
[[263,72],[270,74],[272,72],[266,71]],
[[276,78],[282,79],[281,77.5]],
[[275,65],[280,64],[278,62.5],[275,63.5]],
[[301,47],[304,48],[303,51],[300,49]],
[[336,65],[338,66],[344,66.5],[346.5,65],[342,63.5],[338,64]],
[[354,50.5],[358.5,51],[359,54],[357.5,58],[354,58.5],[355,54.5],[355,52]],
[[350,52],[354,54],[352,55],[350,54]],
[[372,79],[378,80],[388,80],[378,77]],
[[52,71],[56,73],[60,75.5],[68,77],[66,75.5],[58,72.5],[54,70.5]],
[[46,80.5],[60,81],[62,80],[50,79.8]],
[[92,79],[100,81],[105,79],[97,78]],
[[139,75],[147,75.5],[146,74.5],[140,74]],
[[142,54],[143,50],[143.5,46],[142,47],[142,52]],
[[130,33],[136,34],[141,36],[141.5,40],[140,41],[139,38],[135,35.5],[131,34]],
[[140,42],[142,45],[145,43.5],[142,42]],
[[120.2,25],[122,25],[121,22]],
[[120,18],[122,18],[122,14],[124,13],[120,14]],
[[122,8],[126,9],[126,6],[123,7]],
[[109,1],[113,3],[117,7],[119,5],[118,1],[116,-3],[111,-3],[109,0]],
[[95,5.5],[98,4],[104,-1],[106,-6],[102,-4],[98,1]],
[[105,-6.5],[110,-6.5],[114,-7.5],[114,-8.5],[106,-7.5]],
[[120,1],[125,1],[121,-1],[122,-5],[120,-5]],
[[116,-8.5],[125,-8.5],[124,-10],[117,-9.2]],
[[131,-1],[134,-1],[141,-3],[147,-6],[150,-10],[145,-8],[141,-9],[138,-7],[133,-4]],
[[149,-5],[152,-4.5],[152,-6],[149,-6]],
[[114,-22],[113.5,-26],[115,-31],[115,-34.5],[118,-35],[123,-34],[130,-31.5],[134,-32],[138,-35],[141,-38],[146,-39],[150,-37.5],[153,-31],[153,-26],[149,-21],[146,-18],[145,-15],[142.5,-11],[141,-17],[136,-15],[136,-12],[131,-11.5],[128,-15],[122,-18]],
[[145,-41],[148,-41],[148,-43],[146,-43.5]],
[[173,-34.5],[178,-38],[175,-41.5],[174,-39]],
[[173,-41],[174,-42],[171,-46],[167,-46],[170,-43]],
[[155,-6],[161,-10],[160,-10],[155,-7]],
[[164,-20],[167,-22],[166.5,-22.3],[164,-20.5]],
[[177,-17],[179,-17.5],[178,-18.3]],
[[203,22],[205,21],[206,19],[204.5,19.5]],
[[275,22],[280,23],[285,20],[283,20],[278,22]],
[[288,19],[292,19],[291,18],[288,18]],
[[69,-49],[70.5,-49],[70,-50]],
[[300,-51.5],[302,-51.5],[301,-52.3]],
[[39,-69],[50,-67],[60,-67.5],[68,-68],[70,-72],[74,-70],[80,-68],[88,-66.5],[100,-66],[110,-66],[120,-66.5],[135,-66],[145,-67],[155,-68.5],[163,-70],[170,-71.5],[170,-74],[165,-77],[167,-78],[160,-80],[162,-83],[175,-84],[190,-84.5],[205,-85],[218,-85],[214,-83],[205,-80],[205,-78],[212,-76.5],[225,-75],[235,-74.5],[250,-74.5],[258,-73],[262,-75],[270,-73],[280,-73],[290,-73],[294,-70],[298,-66],[302,-63],[301,-66],[298,-70],[298,-74],[290,-77.5],[282,-78],[283,-80],[295,-81],[302,-83],[315,-81],[330,-79.5],[335,-77],[343,-73],[350,-72],[360,-70.5],[370,-71],[380,-70],[390,-69],[403,-69.5],[403,-92],[39,-92]]
];
const SVG_NS='http://www.w3.org/2000/svg';
const LON0=41,AX_W=719,AX_H=359,LAND='#d1d1d1';

function hexRgb(h){return [parseInt(h.slice(1,3),16),parseInt(h.slice(3,5),16),parseInt(h.slice(5,7),16)];}
function sstColor(v){
  const t=Math.max(0,Math.min(1,(v+1)/31))*(sstNodes.length-1);
  const i=Math.min(sstNodes.length-2,Math.floor(t));
  const a=hexRgb(sstNodes[i]),b=hexRgb(sstNodes[i+1]),f=t-i;
  return 'rgb('+a.map((c,k)=>Math.round(c+(b[k]-c)*f)).join(',')+')';
}
const sstColors=sstLevels.slice(0,-1).map((v,i)=>sstColor((v+sstLevels[i+1])/2));

const panelDefs=[
 {id:'a',x:121.4,y:118.3,data:biasOmip1,features:featuresA,scale:0.12,levels:biasLevels,colors:biasColors,under:'#053061',over:'#67001f',tickLabels:biasTickLabels,tickValues:biasLevels,hatch:null,ink:null,cbx:885,cbTop:111.6,cbBot:484,cbLabelX:1012,latLabelX:12},
 {id:'b',x:1164.6,y:118.3,data:biasOmip2,features:featuresB,scale:0.12,levels:biasLevels,colors:biasColors,under:'#053061',over:'#67001f',tickLabels:biasTickLabels,tickValues:biasLevels,hatch:null,ink:null,cbx:1928.5,cbTop:111.6,cbBot:484,cbLabelX:2055,latLabelX:1059},
 {id:'c',x:121.4,y:589,data:sdOmip1,features:featuresC,scale:0.01,levels:sdLevels,colors:sdColors,under:'#333399',over:'#ffffff',tickLabels:sdTickLabels,tickValues:sdLevels,hatch:hatchC,ink:'#ff0000',cbx:885,cbTop:582.3,cbBot:954.3,cbLabelX:989.5,latLabelX:12},
 {id:'d',x:1164.6,y:589,data:sdOmip2,features:featuresD,scale:0.01,levels:sdLevels,colors:sdColors,under:'#333399',over:'#ffffff',tickLabels:sdTickLabels,tickValues:sdLevels,hatch:hatchD,ink:'#ff0000',cbx:1928.5,cbTop:582.3,cbBot:954.3,cbLabelX:2033,latLabelX:1059},
 {id:'e',x:121.4,y:1059,data:diffOmip,features:featuresE,scale:0.013,levels:diffLevels,colors:diffColors,under:'#0000ff',over:'#ff0000',tickLabels:diffTickLabels,tickValues:diffLevels,hatch:hatchE,ink:'#00ee00',cbx:885,cbTop:1052.3,cbBot:1425,cbLabelX:1012,latLabelX:12},
 {id:'f',x:1164.6,y:1059,data:sstPcmdi,features:featuresF,scale:1,levels:sstLevels,colors:sstColors,under:'#313695',over:'#a50026',tickLabels:sstTickLabels,tickValues:sstTickValues,hatch:null,ink:null,cbx:1928.5,cbTop:1052.3,cbBot:1425,cbLabelX:2023,latLabelX:1059}
];

function node(tag,attrs,parent){
  const el=document.createElementNS(SVG_NS,tag);
  for(const k in attrs)el.setAttribute(k,attrs[k]);
  if(parent)parent.appendChild(el);
  return el;
}
function sampleField(p,lon,lat){
  const data=p.data;
  let fx=(lon-gridLons[0])/10,fy=(gridLats[0]-lat)/6;
  fx=Math.max(0,Math.min(gridLons.length-1,fx));
  fy=Math.max(0,Math.min(gridLats.length-1,fy));
  const i=Math.min(gridLons.length-2,Math.floor(fx)),j=Math.min(gridLats.length-2,Math.floor(fy));
  const u=fx-i,v=fy-j;
  const r0=data[j],r1=data[j+1];
  let val=(r0[i]*(1-u)+r0[i+1]*u)*(1-v)+(r1[i]*(1-u)+r1[i+1]*u)*v;
  p.features.forEach(f=>{
    const d=Math.hypot((lon-f[0])/f[2],(lat-f[1])/f[3]);
    if(d<1){
      const w=Math.min(1,(1-d)*2);
      val+=(f[4]-val)*w;
    }
  });
  return val;
}
function binColor(p,v){
  if(v<p.levels[0])return p.under;
  const L=p.levels;
  if(v>=L[L.length-1])return p.over;
  for(let k=0;k<L.length-1;k++){if(v<L[k+1])return p.colors[k];}
  return p.over;
}
const panelsRoot=document.getElementById('panels');
const defs=document.getElementById('defs');

panelDefs.forEach(p=>{
  const xOf=lon=>p.x+(lon-LON0)*AX_W/360;
  const yOf=lat=>p.y+(90-lat)*AX_H/180;
  const g=node('g',{},panelsRoot);
  
  

  const clip=node('clipPath',{id:'clip-'+p.id},defs);
  node('rect',{x:p.x,y:p.y,width:AX_W,height:AX_H},clip);

  const plot=node('g',{'clip-path':'url(#clip-'+p.id+')'},g);
  
  
  const bg=node('rect',{x:p.x,y:p.y,width:AX_W,height:AX_H,fill:LAND},plot);
  
  

  // heatmap cells (runs of equal colour on a 2-degree raster, ocean down to 78S)
  const cells=node('g',{'shape-rendering':'crispEdges'},plot);
  
  
  for(let latTop=90;latTop>-78;latTop-=2){
    let runStart=LON0,runColor=null;
    for(let lon=LON0;lon<=LON0+360;lon+=2){
      const c=lon<LON0+360?binColor(p,sampleField(p,lon+1,latTop-1)*p.scale):null;
      if(c!==runColor){
        if(runColor!==null){
          const cell=node('rect',{x:xOf(runStart).toFixed(1),y:yOf(latTop).toFixed(1),width:((lon-runStart)*AX_W/360+0.4).toFixed(1),height:(2*AX_H/180+0.4).toFixed(1),fill:runColor},cells);
          
          
        }
        runStart=lon;runColor=c;
      }
    }
  }

  // hatching
  if(p.hatch){
    const pat=node('pattern',{id:'hatch-'+p.id,patternUnits:'userSpaceOnUse',width:12,height:13},defs);
    node('path',{d:'M0 0L12 13M12 0L0 13',stroke:p.ink,'stroke-width':1.2,fill:'none'},pat);
    p.hatch.forEach(b=>{
      const h=node('rect',{x:xOf(b[0]),y:yOf(b[1]),width:(b[2]-b[0])*AX_W/360,height:(b[1]-b[3])*AX_H/180,fill:'url(#hatch-'+p.id+')'},plot);
      
      
    });
  }

  // land
  const land=node('g',{},plot);
  
  
  landRings.forEach((ring,idx)=>{
    const fill=(idx===3&&p.id==='f')?'#f7d978':LAND;
    const poly=node('polygon',{points:ring.map(c=>xOf(c[0]).toFixed(1)+','+yOf(c[1]).toFixed(1)).join(' '),fill:fill,stroke:'#000','stroke-width':3,'stroke-linejoin':'round'},land);
    
    
  });

  // frame
  const frame=node('rect',{x:p.x,y:p.y,width:AX_W,height:AX_H,fill:'none',stroke:'#000','stroke-width':1.9},g);
  
  

  // x axis
  lonTickValues.forEach((v,i)=>{
    const x=xOf(v),yb=p.y+AX_H;
    const t=node('line',{x1:x,x2:x,y1:yb,y2:yb+7.5,stroke:'#000','stroke-width':1.5},g);
    
    
    const l=node('text',{x:x+2,y:yb+38.5,'font-size':22.5,'text-anchor':'middle'},g);
    l.textContent=lonTickLabels[i];
    
    
  });
  // y axis
  latTickValues.forEach((v,i)=>{
    const y=yOf(v);
    const t=node('line',{x1:p.x-7.5,x2:p.x,y1:y,y2:y,stroke:'#000','stroke-width':1.5},g);
    
    
    const l=node('text',{x:p.x-21,y:y+10,'font-size':22.5,'text-anchor':'end'},g);
    l.textContent=latTickLabels[i];
    
    
  });
  const lat=node('text',{x:p.latLabelX,y:p.y+AX_H/2,'font-size':25.5,'text-anchor':'middle','dominant-baseline':'central',transform:'rotate(-90 '+p.latLabelX+' '+(p.y+AX_H/2)+')'},g);
  lat.textContent='Lat';
  
  

  // colorbar
  const cb=node('g',{},g);
  
  
  const cbW=18.7,n=p.levels.length-1;
  const cbY=k=>p.cbBot-k*(p.cbBot-p.cbTop)/n;
  const cells2=node('g',{'shape-rendering':'crispEdges'},cb);
  p.colors.forEach((c,k)=>{
    const s=node('rect',{x:p.cbx,y:cbY(k+1).toFixed(1),width:cbW,height:(cbY(k)-cbY(k+1)+0.5).toFixed(1),fill:c},cells2);
    
    
  });
  const mx=p.cbx+cbW/2;
  const up=node('polygon',{points:p.cbx+','+p.cbTop+' '+mx+','+(p.cbTop-18.6)+' '+(p.cbx+cbW)+','+p.cbTop,fill:p.over},cb);
  
  
  const down=node('polygon',{points:p.cbx+','+p.cbBot+' '+mx+','+(p.cbBot+18.8)+' '+(p.cbx+cbW)+','+p.cbBot,fill:p.under},cb);
  
  
  const outline=node('polygon',{points:[[p.cbx,p.cbTop],[mx,p.cbTop-18.6],[p.cbx+cbW,p.cbTop],[p.cbx+cbW,p.cbBot],[mx,p.cbBot+18.8],[p.cbx,p.cbBot]].map(q=>q.join(',')).join(' '),fill:'none',stroke:'#000','stroke-width':1.6},cb);
  
  
  p.tickValues.forEach((v,i)=>{
    const k=p.levels.indexOf(v);
    const y=cbY(k);
    const t=node('line',{x1:p.cbx+cbW,x2:p.cbx+cbW+7.5,y1:y,y2:y,stroke:'#000','stroke-width':1.5},cb);
    
    
    const l=node('text',{x:p.cbx+cbW+17.5,y:y+11,'font-size':25},cb);
    l.textContent=p.tickLabels[i];
    
    
  });
  const cy=p.y+AX_H/2+1;
  const unit=node('text',{x:p.cbLabelX,y:cy,'font-size':25,'text-anchor':'middle','dominant-baseline':'central',textLength:56,lengthAdjust:'spacing',transform:'rotate(-90 '+p.cbLabelX+' '+cy+')'},cb);
  unit.textContent='[ ° C ]';
  
  
});
</script>
</body>
</html>
